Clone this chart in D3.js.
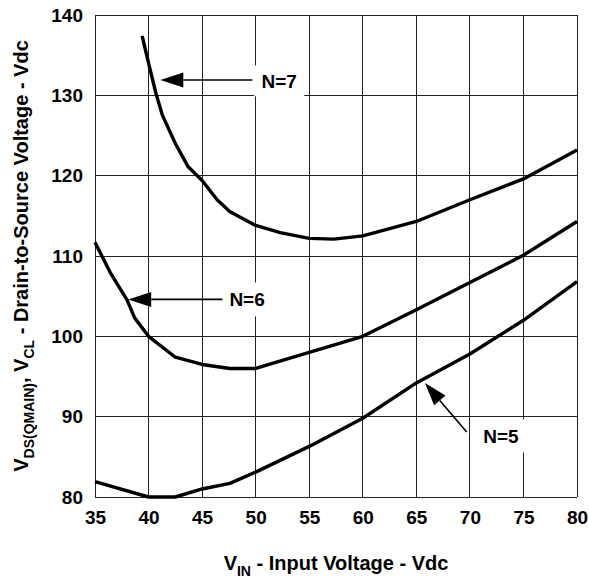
<!DOCTYPE html>
<html>
<head>
<meta charset="utf-8">
<script src="https://cdn.jsdelivr.net/npm/d3@7"></script>
<style>
    body { margin: 0; background: #fff; }
    svg text { font-family: "Liberation Sans", Arial, sans-serif; font-weight: bold; fill: #000; }
</style>
</head>
<body>
<div class="charts-div"></div>
<script>
// Curve data (x = Vin, y = Vds)
const vinN7 = [39.4, 40.0, 40.7, 41.3, 42.5, 43.7, 45.0, 46.4, 47.6, 50.0, 52.3, 55.0, 57.3, 60.0, 65.0, 70.0, 75.0, 80.0];
const vdsN7 = [137.4, 134.0, 130.2, 127.5, 124.0, 121.1, 119.4, 117.0, 115.5, 113.8, 112.9, 112.2, 112.1, 112.5, 114.3, 117.0, 119.6, 123.2];

const vinN6 = [35.0, 36.4, 38.0, 38.7, 40.0, 42.5, 45.0, 47.6, 50.0, 53.2, 55.0, 60.0, 65.0, 70.0, 75.0, 80.0];
const vdsN6 = [111.7, 108.0, 104.5, 102.3, 100.0, 97.4, 96.5, 96.0, 96.0, 97.3, 98.0, 100.0, 103.3, 106.7, 110.1, 114.3];

const vinN5 = [35.0, 40.0, 42.5, 45.0, 47.6, 50.0, 55.0, 60.0, 65.0, 70.0, 75.0, 80.0];
const vdsN5 = [81.9, 80.0, 80.0, 81.0, 81.7, 83.1, 86.3, 89.8, 94.2, 97.8, 102.0, 106.8];

const xTicks = [35, 40, 45, 50, 55, 60, 65, 70, 75, 80];
const yTicks = [80, 90, 100, 110, 120, 130, 140];

// Annotation labels: text position and arrow tail/tip in data units
const labelNames = ["N=7", "N=6", "N=5"];
const labelAt = [[52.2, 131.8], [49.2, 104.6], [72.9, 87.6]];
const arrowFrom = [[49.7, 131.9], [46.9, 104.6], [69.7, 88.1]];
const arrowTo = [[41.1, 131.9], [38.1, 104.6], [65.8, 94.2]];

const width = 589, height = 583;
const margins = { top: 15, right: 12, bottom: 86, left: 95 };

const x = d3.scaleLinear().domain([35, 80]).range([margins.left, width - margins.right]);
const y = d3.scaleLinear().domain([80, 140]).range([height - margins.bottom, margins.top]);

const svg = d3.select(".charts-div").append("svg").attr("width", width).attr("height", height);

// grid lines
const grid = svg.append("g").attr("stroke", "#222").attr("stroke-width", 1).attr("shape-rendering", "crispEdges");
grid.selectAll(".vgrid").data(xTicks).join("line")
    .attr("x1", d => x(d)).attr("x2", d => x(d))
    .attr("y1", y(80)).attr("y2", y(140));
grid.selectAll(".hgrid").data(yTicks).join("line")
    .attr("x1", x(35)).attr("x2", x(80))
    .attr("y1", d => y(d)).attr("y2", d => y(d));

// axes (labels only)
const xAxis = svg.append("g")
    .attr("transform", `translate(0,${y(80)})`)
    .call(d3.axisBottom(x).tickValues(xTicks).tickSize(0).tickPadding(14));
const yAxis = svg.append("g")
    .attr("transform", `translate(${x(35)},0)`)
    .call(d3.axisLeft(y).tickValues(yTicks).tickSize(0).tickPadding(12));
[xAxis, yAxis].forEach(a => {
    a.select(".domain").remove();
    a.selectAll("text").attr("font-size", 19).attr("font-family", null);
});

// white boxes behind labels (hide grid lines)
const boxW = [50, 46, 50], boxH = [31, 34, 33];
svg.selectAll(".label-box").data(labelNames).join("rect")
    .attr("fill", "#fff")
    .attr("x", (d, i) => x(labelAt[i][0]) - boxW[i] / 2)
    .attr("y", (d, i) => y(labelAt[i][1]) - boxH[i] / 2)
    .attr("width", (d, i) => boxW[i])
    .attr("height", (d, i) => boxH[i]);

// curves
const line = d3.line().x(d => x(d[0])).y(d => y(d[1]));
const series = [
    d3.zip(vinN7, vdsN7),
    d3.zip(vinN6, vdsN6),
    d3.zip(vinN5, vdsN5)
];
svg.selectAll(".curve").data(series).join("path")
    .attr("fill", "none")
    .attr("stroke", "#000")
    .attr("stroke-width", 3.4)
    .attr("stroke-linejoin", "round")
    .attr("d", line);

// arrows
labelNames.forEach((name, i) => {
    const x1 = x(arrowFrom[i][0]), y1 = y(arrowFrom[i][1]);
    const x2 = x(arrowTo[i][0]), y2 = y(arrowTo[i][1]);
    const ang = Math.atan2(y2 - y1, x2 - x1);
    const headLen = 23, headHalf = 7.5;
    const bx = x2 - headLen * Math.cos(ang), by = y2 - headLen * Math.sin(ang);
    svg.append("line")
        .attr("x1", x1).attr("y1", y1).attr("x2", bx).attr("y2", by)
        .attr("stroke", "#000").attr("stroke-width", 1.6);
    const px = -Math.sin(ang) * headHalf, py = Math.cos(ang) * headHalf;
    svg.append("path")
        .attr("fill", "#000")
        .attr("d", `M${x2},${y2}L${bx + px},${by + py}L${bx - px},${by - py}Z`);
    svg.append("text")
        .attr("x", x(labelAt[i][0])).attr("y", y(labelAt[i][1]))
        .attr("text-anchor", "middle").attr("dy", "0.36em")
        .attr("font-size", 19)
        .text(name);
});

// x axis title
const xTitle = svg.append("text")
    .attr("x", (x(35) + x(80)) / 2).attr("y", 570)
    .attr("text-anchor", "middle").attr("font-size", 20);
xTitle.append("tspan").text("V");
xTitle.append("tspan").attr("font-size", 14).attr("dy", 6).text("IN");
xTitle.append("tspan").attr("dy", -6).text(" - Input Voltage - Vdc");

// y axis title
const yTitle = svg.append("text")
    .attr("transform", `translate(28,${(y(80) + y(140)) / 2}) rotate(-90)`)
    .attr("text-anchor", "middle").attr("font-size", 20);
yTitle.append("tspan").text("V");
yTitle.append("tspan").attr("font-size", 14).attr("dy", 6).text("DS(QMAIN)");
yTitle.append("tspan").attr("dy", -6).text(", V");
yTitle.append("tspan").attr("font-size", 14).attr("dy", 6).text("CL");
yTitle.append("tspan").attr("dy", -6).text(" - Drain-to-Source Voltage - Vdc");
</script>
</body>
</html>
